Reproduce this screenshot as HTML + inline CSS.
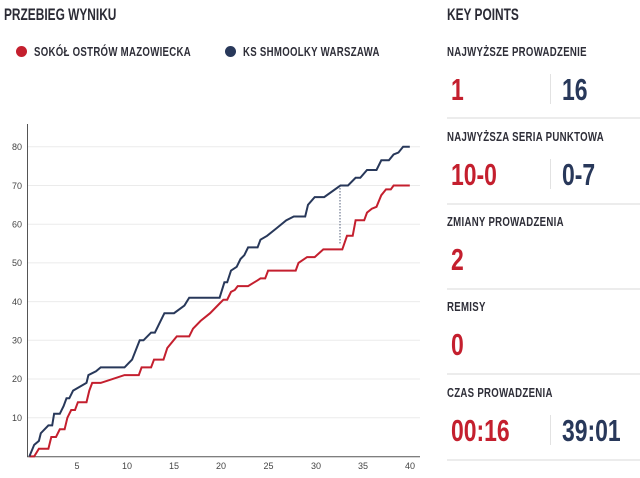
<!DOCTYPE html>
<html><head><meta charset="utf-8">
<style>
body{margin:0;width:640px;height:478px;background:#fff;overflow:hidden;position:relative;font-family:"Liberation Sans",sans-serif;}
.t{position:absolute;font-weight:bold;color:#2b2b35;white-space:nowrap;transform:scaleX(0.74);transform-origin:0 0}
.h{font-size:17px;transform:scaleX(0.7)}
.lab{font-size:13px;letter-spacing:0.4px;color:#2e2e38}
.val{font-size:31px;font-weight:bold;position:absolute;line-height:1;transform:scaleX(0.74);transform-origin:0 0;white-space:nowrap}
.r{color:#c41f2e}.b{color:#28385a}
.sep{position:absolute;left:447px;width:193px;height:2px;background:#ececec}
.vd{position:absolute;left:550px;width:1px;background:#e2e2e2;height:30px}
.dot{position:absolute;width:11px;height:11px;border-radius:50%}
</style></head><body>
<div class="t h" style="left:4px;top:5px">PRZEBIEG WYNIKU</div>
<div class="dot" style="left:16px;top:46px;background:#c41f2e"></div>
<div class="t lab" style="left:34px;top:44px">SOKÓŁ OSTRÓW MAZOWIECKA</div>
<div class="dot" style="left:225px;top:46px;background:#28385a"></div>
<div class="t lab" style="left:243px;top:44px">KS SHMOOLKY WARSZAWA</div>

<div class="t h" style="left:447px;top:5px">KEY POINTS</div>
<div class="t lab" style="left:447px;top:44px">NAJWYŻSZE PROWADZENIE</div>
<div class="val r" style="left:451px;top:74px">1</div>
<div class="vd" style="top:74px"></div>
<div class="val b" style="left:562px;top:74px">16</div>
<div class="sep" style="top:117px"></div>
<div class="t lab" style="left:447px;top:129px">NAJWYŻSZA SERIA PUNKTOWA</div>
<div class="val r" style="left:451px;top:159px">10-0</div>
<div class="vd" style="top:159px"></div>
<div class="val b" style="left:562px;top:159px">0-7</div>
<div class="sep" style="top:203px"></div>
<div class="t lab" style="left:447px;top:214px">ZMIANY PROWADZENIA</div>
<div class="val r" style="left:451px;top:244px">2</div>
<div class="sep" style="top:288px"></div>
<div class="t lab" style="left:447px;top:299px">REMISY</div>
<div class="val r" style="left:451px;top:329px">0</div>
<div class="sep" style="top:373px"></div>
<div class="t lab" style="left:447px;top:385px">CZAS PROWADZENIA</div>
<div class="val r" style="left:451px;top:415px">00:16</div>
<div class="vd" style="top:415px"></div>
<div class="val b" style="left:562px;top:415px">39:01</div>
<div class="sep" style="top:459px"></div>

<svg id="c" width="430" height="478" style="position:absolute;left:0;top:0" xmlns="http://www.w3.org/2000/svg">
<g stroke="#ebebeb" stroke-width="1">
<line x1="28" x2="420" y1="417.7" y2="417.7"/><line x1="28" x2="420" y1="379" y2="379"/>
<line x1="28" x2="420" y1="340.3" y2="340.3"/><line x1="28" x2="420" y1="301.6" y2="301.6"/>
<line x1="28" x2="420" y1="262.9" y2="262.9"/><line x1="28" x2="420" y1="224.2" y2="224.2"/>
<line x1="28" x2="420" y1="185.5" y2="185.5"/><line x1="28" x2="420" y1="146.8" y2="146.8"/>
</g>
<line x1="27.5" x2="27.5" y1="124" y2="457" stroke="#555" stroke-width="1"/>
<line x1="27" x2="420" y1="456.8" y2="456.8" stroke="#555" stroke-width="1"/>
<g font-family="Liberation Sans, sans-serif" font-size="9" fill="#444" text-anchor="end">
<text x="22" y="421">10</text><text x="22" y="382">20</text><text x="22" y="343.5">30</text><text x="22" y="305">40</text>
<text x="22" y="266">50</text><text x="22" y="227.5">60</text><text x="22" y="189">70</text><text x="22" y="150">80</text>
</g>
<g font-family="Liberation Sans, sans-serif" font-size="9" fill="#444" text-anchor="middle">
<text x="77" y="469">5</text><text x="127" y="469">10</text><text x="174" y="469">15</text><text x="221" y="469">20</text>
<text x="268.5" y="469">25</text><text x="316" y="469">30</text><text x="363" y="469">35</text><text x="410" y="469">40</text>
</g>
<line x1="340" x2="340" y1="185" y2="244" stroke="#28385a" stroke-width="0.8" stroke-dasharray="1.5,1.5"/>
<polyline id="red" fill="none" stroke="#c41f2e" stroke-width="2"/>
<polyline id="blue" fill="none" stroke="#28385a" stroke-width="2"/>
</svg>
<script>
function P(d){return d.map(function(p){return (29.4+9.51*p[0]).toFixed(1)+","+(456.4-3.87*p[1]).toFixed(1)}).join(" ")}
var blue=[[0,0],[0.5,3],[1,4],[1.2,6],[2,8],[2.4,8],[2.6,11],[3.2,11],[3.6,13],[3.9,15],[4.2,15],[4.6,17],[6,19],[6.2,21],[7,22],[7.5,23],[10,23],[10.8,25],[11.6,30],[12,30],[12.8,32],[13.2,32],[13.8,35],[14.2,37],[15.2,37],[16.3,39],[16.8,41],[20,41],[20.5,45],[20.8,45],[21.2,48],[21.8,49],[22.2,51],[22.6,52],[23,54],[24,54],[24.3,56],[25,57],[26,59],[27,61],[27.8,62],[29,62],[29.3,65],[30,67],[31,67],[32.7,70],[33.5,70],[34.3,72],[34.8,72],[35.5,74],[36.5,74],[37,76.5],[37.8,76.5],[38.3,78],[38.8,78.5],[39.3,80],[40,80]];
var red=[[0,0],[0.5,0],[1,2],[2,2],[2.3,5],[2.8,5],[3.2,7],[3.7,7],[4,10],[4.4,12],[4.8,12],[5.1,14],[6,14],[6.3,17],[6.6,19],[7.5,19],[10,21],[11.5,21],[11.8,23],[12.8,23],[13.1,25],[14.1,25],[14.5,28],[15.5,31],[16.8,31],[17.2,33],[18,35],[19,37],[20,39.5],[20.4,40.5],[20.8,40.5],[21.2,42.5],[21.6,43],[21.9,44],[23,44],[24,45.5],[24.3,46],[24.8,46],[25.1,48],[28,48],[28.3,50],[29.2,51.5],[30,51.5],[30.9,53.5],[32.9,53.5],[33.4,57],[34,57],[34.3,61],[35.2,61],[35.5,63],[36,64],[36.5,64.5],[37,67.5],[37.5,69],[38,69],[38.3,70],[40,70]];
document.getElementById("red").setAttribute("points",P(red));
document.getElementById("blue").setAttribute("points",P(blue));
</script>
</body></html>
